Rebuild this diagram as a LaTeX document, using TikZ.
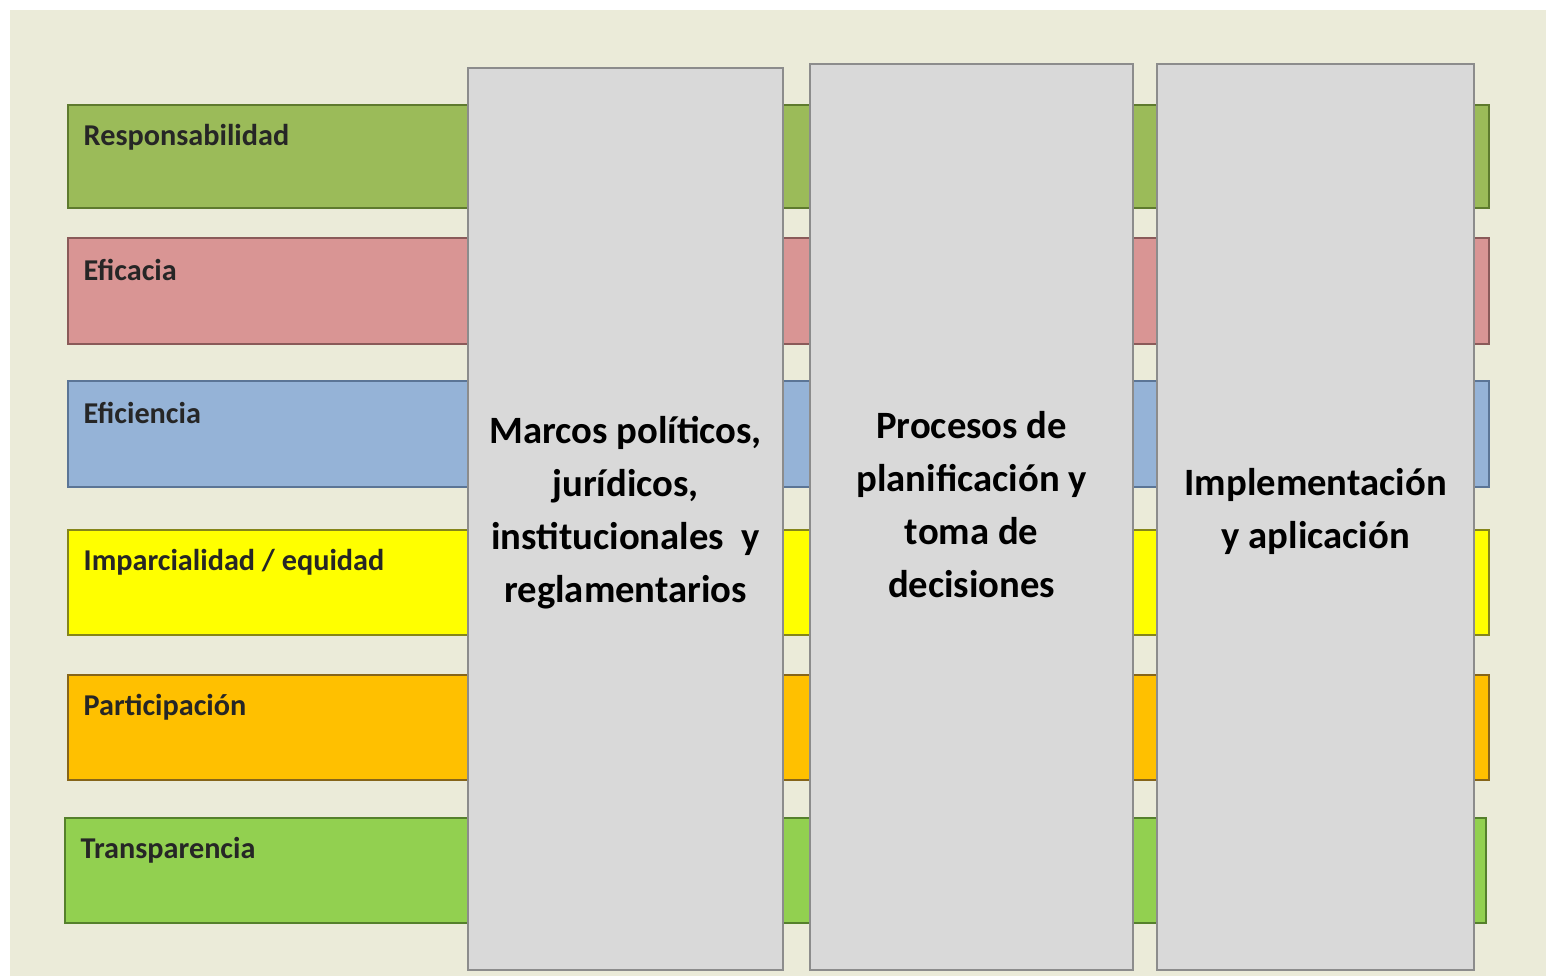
\documentclass[tikz,border=0pt]{standalone}
\usepackage{fontspec}
\setmainfont{Carlito}
\usetikzlibrary{positioning, calc}
\definecolor{bgbeige}{HTML}{EBEBD9}
\definecolor{pillarfill}{HTML}{D9D9D9}
\definecolor{pillarline}{HTML}{8C8C8C}
\definecolor{respfill}{HTML}{9BBB59}
\definecolor{respline}{HTML}{5E7A2E}
\definecolor{eficfill}{HTML}{D99594}
\definecolor{eficline}{HTML}{8A5A59}
\definecolor{efifill}{HTML}{95B3D7}
\definecolor{efiline}{HTML}{5B7596}
\definecolor{impfill}{HTML}{FFFF00}
\definecolor{impline}{HTML}{85851A}
\definecolor{partfill}{HTML}{FFC000}
\definecolor{partline}{HTML}{86651A}
\definecolor{transfill}{HTML}{92D050}
\definecolor{transline}{HTML}{55802C}

\begin{document}
\begin{tikzpicture}[
		x = 0.01cm, y = -0.01cm,
		bar/.style = {rectangle, line width = 0.6pt, anchor = north west, inner sep = 0pt, minimum width = 14.2cm, minimum height = 1.05cm},
		pillar/.style = {rectangle, draw = pillarline, fill = pillarfill, line width = 0.6pt, anchor = north west, inner sep = 0pt},
		heading/.style = {inner sep = 0pt, align = center, font = \fontsize{11}{15.1}\selectfont\bfseries},
		tag/.style = {anchor = west, inner sep = 0pt, text = black!85, font = \fontsize{8.6}{10}\selectfont\bfseries},
	]

	\useasboundingbox (0,0) rectangle (1546,976);
	\fill[bgbeige] (10,10) rectangle (1546,976);

	% horizontal bands
	\node[bar, draw = respline, fill = respfill, minimum height = 1.03cm](Resp) at (67,104){};
	\node[bar, draw = eficline, fill = eficfill, minimum height = 1.06cm](Efic) at (67,237){};
	\node[bar, draw = efiline, fill = efifill, minimum height = 1.06cm](Efi) at (67,380){};
	\node[bar, draw = impline, fill = impfill](Imp) at (67,529){};
	\node[bar, draw = partline, fill = partfill](Part) at (67,674){};
	\node[bar, draw = transline, fill = transfill](Trans) at (64,817){};

	\node[tag](tResp) at ($(Resp.north west)+(16,33)$){Responsabilidad};
	\node[tag](tEfic) at ($(Efic.north west)+(16,33)$){Eficacia};
	\node[tag](tEfi) at ($(Efi.north west)+(16,33)$){Eficiencia};
	\node[tag](tImp) at ($(Imp.north west)+(16,33)$){Imparcialidad / equidad};
	\node[tag](tPart) at ($(Part.north west)+(16,33)$){Participación};
	\node[tag](tTrans) at ($(Trans.north west)+(16,33)$){Transparencia};

	% vertical pillars
	\node[pillar, minimum width = 3.15cm, minimum height = 9.01cm](Marcos) at (467,67){};
	\node[pillar, minimum width = 3.23cm, minimum height = 9.05cm](Procesos) at (809,63){};
	\node[pillar, minimum width = 3.17cm, minimum height = 9.05cm](Impl) at (1156,63){};

	\node[heading](hMarcos) at ($(Marcos.center)+(0,-6)$){Marcos políticos,\\jurídicos,\\institucionales \ y\\reglamentarios};
	\node[heading](hProcesos) at ($(Procesos.center)+(0,-12)$){Procesos de\\planificación y\\toma de\\decisiones};
	\node[heading](hImpl) at ($(Impl.center)+(0,-5)$){Implementación\\y aplicación};

\end{tikzpicture}
\end{document}
